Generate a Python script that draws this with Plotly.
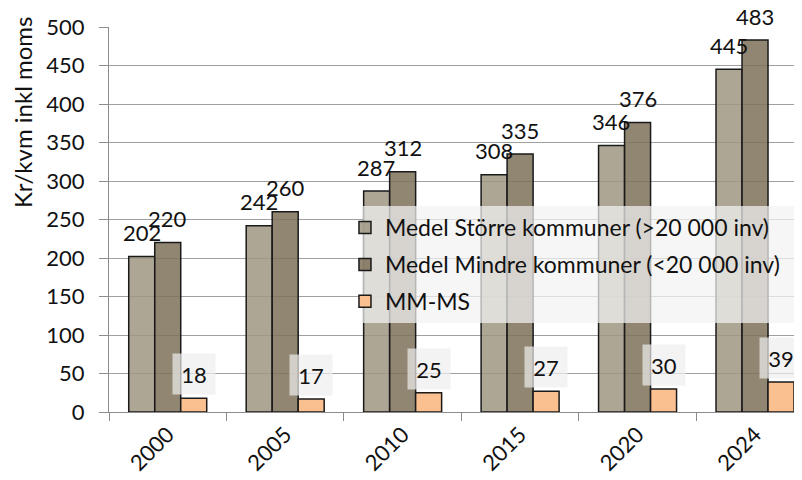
import plotly.graph_objects as go

years = ["2000", "2005", "2010", "2015", "2020", "2024"]
storre = [202, 242, 287, 308, 346, 445]
mindre = [220, 260, 312, 335, 376, 483]
mm_ms = [18, 17, 25, 27, 30, 39]

names = [
    "Medel Större kommuner (>20 000 inv)",
    "Medel Mindre kommuner (<20 000 inv)",
    "MM-MS",
]
# slightly transparent so the gridlines show through, like the original
colors = ["rgba(160,150,131,0.85)", "rgba(126,113,89,0.85)", "#fac090"]
FONT = "Lato"

fig = go.Figure()
for i, (vals, name, col) in enumerate(zip([storre, mindre, mm_ms], names, colors)):
    fig.add_trace(
        go.Bar(
            x=years,
            y=vals,
            name=name,
            legendgroup=str(i),
            marker=dict(color=col, line=dict(color="#1a1a1a", width=1.5)),
        )
    )

# data labels (orange series gets the light boxes like in Excel)
bar_px = 26.2
for i, vals in enumerate([storre, mindre, mm_ms]):
    for k, v in enumerate(vals):
        boxed = i == 2
        fig.add_annotation(
            x=k,
            y=v,
            text=str(v),
            showarrow=False,
            xshift=(i - 1) * bar_px,
            yshift=24,
            yanchor="middle",
            font=dict(family=FONT, size=22, color="#111"),
            bgcolor="rgba(238,238,238,0.7)" if boxed else "rgba(0,0,0,0)",
            width=40 if boxed else None,
            height=38 if boxed else None,
        )

fig.add_annotation(
    text="Kr/kvm inkl moms",
    xref="paper",
    yref="paper",
    x=-0.1255,
    y=0.779,
    xanchor="center",
    yanchor="middle",
    textangle=-90,
    showarrow=False,
    font=dict(family=FONT, size=24, color="#111"),
)

# legend background box
fig.add_shape(
    type="rect",
    xref="paper",
    yref="paper",
    x0=0.3665,
    x1=1.0,
    y0=0.231,
    y1=0.535,
    fillcolor="rgba(242,242,242,0.72)",
    line=dict(width=0),
    layer="above",
)

# page body has an 8px margin, so the figure is a bit smaller than the window
fig.update_layout(
    width=794,
    height=472,
    margin=dict(l=101, r=0, t=19, b=68),
    paper_bgcolor="white",
    plot_bgcolor="white",
    barmode="group",
    bargap=0.336,
    bargroupgap=0,
    font=dict(family=FONT, size=22, color="#111"),
    legend=dict(
        x=0.3405,
        y=0.535,
        xanchor="left",
        yanchor="top",
        bgcolor="rgba(0,0,0,0)",
        font=dict(size=23),
        tracegroupgap=4,
        itemwidth=30,
    ),
    xaxis=dict(
        type="category",
        range=[-0.5, 5.4],
        tickangle=-45,
        ticks="outside",
        tickson="boundaries",
        ticklen=8,
        tickcolor="#8c8c8c",
        showline=True,
        linecolor="#8c8c8c",
        showgrid=False,
        automargin=False,
        tickfont=dict(size=22),
    ),
    yaxis=dict(
        range=[0, 500],
        dtick=50,
        ticks="outside",
        ticklen=9,
        tickcolor="#8c8c8c",
        ticklabelstandoff=10,
        showline=True,
        linecolor="#8c8c8c",
        showgrid=True,
        gridcolor="#a0a0a0",
        zeroline=False,
        automargin=False,
        tickfont=dict(size=22),
    ),
)

fig.write_html("out.html")
